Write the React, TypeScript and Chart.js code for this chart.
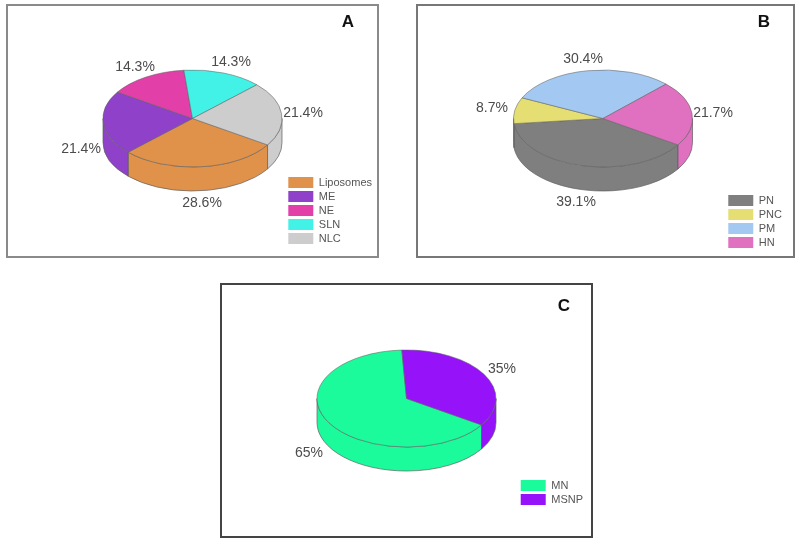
import React, { useEffect, useRef } from "react";
import { Chart, registerables } from "chart.js";

Chart.register(...registerables);

const labelsA = ["Liposomes", "ME", "NE", "SLN", "NLC"];
const valuesA = [28.6, 21.4, 14.3, 14.3, 21.4];
const coloursA = ["#E0924B", "#8F41C9", "#E23FA9", "#43F2E6", "#CDCDCD"];
const textA = ["28.6%", "21.4%", "14.3%", "14.3%", "21.4%"];
const labelOffsetsA = [[9.5, 84.5], [-111.5, 30.5], [-57.5, -51.5], [38.5, -56.5], [110.5, -5.5]];

const labelsB = ["PN", "PNC", "PM", "HN"];
const valuesB = [39.1, 8.7, 30.4, 21.7];
const coloursB = ["#7F7F7F", "#E5DF73", "#A3C9F2", "#E071C1"];
const textB = ["39.1%", "8.7%", "30.4%", "21.7%"];
const labelOffsetsB = [[-27, 83.5], [-111, -10.5], [-20, -59.5], [110, -5.5]];

const labelsC = ["MN", "MSNP"];
const valuesC = [65, 35];
const coloursC = ["#1CFB9B", "#9512F9"];
const textC = ["65%", "35%"];
const labelOffsetsC = [[-97.5, 54.5], [95.5, -29.5]];

const RX = 89.5;
const RY = 48.5;
const DEPTH = 24;
const BW = 2;
const EDGE = "#5f5f5f";

type Panel = {
  letter: string; labels: string[]; values: number[]; colours: string[]; text: string[];
  offsets: number[][]; left: number; top: number; w: number; h: number;
  cx: number; cy: number; letterX: number; letterY: number; padR: number; padB: number; border: string;
};

const panels: Panel[] = [
  { letter: "A", labels: labelsA, values: valuesA, colours: coloursA, text: textA, offsets: labelOffsetsA,
    left: 6, top: 4, w: 373, h: 254, cx: 192.5, cy: 118.5, letterX: 348, letterY: 22, padR: -5, padB: 9, border: "#8a8a8a" },
  { letter: "B", labels: labelsB, values: valuesB, colours: coloursB, text: textB, offsets: labelOffsetsB,
    left: 416, top: 4, w: 379, h: 254, cx: 603, cy: 118.5, letterX: 764, letterY: 22, padR: 1, padB: 5, border: "#777777" },
  { letter: "C", labels: labelsC, values: valuesC, colours: coloursC, text: textC, offsets: labelOffsetsC,
    left: 220, top: 283, w: 373, h: 255, cx: 406.5, cy: 398.5, letterX: 564, letterY: 306, padR: -2, padB: 28, border: "#444444" },
];

function PieCard({ p }: { p: Panel }) {
  const ref = useRef<HTMLCanvasElement>(null);
  useEffect(() => {
    const canvas = ref.current!;
    const ox = p.left + BW;
    const oy = p.top + BW;
    const tx = p.cx - ox;
    const ty = p.cy - oy;
    const pie3d = {
      id: "pie3d",
      beforeDatasetsDraw(chart: any) {
        const ctx = chart.ctx;
        const arcs = chart.getDatasetMeta(0).data;
        ctx.save();
        arcs.forEach((arc: any, i: number) => {
          const s = arc.startAngle, e = arc.endAngle;
          for (let k = -1; k <= 1; k++) {
            const a0 = Math.max(s + k * 2 * Math.PI, 0);
            const a1 = Math.min(e + k * 2 * Math.PI, Math.PI);
            if (a1 <= a0) continue;
            ctx.beginPath();
            ctx.ellipse(tx, ty, RX, RY, 0, a0, a1);
            ctx.ellipse(tx, ty + DEPTH, RX, RY, 0, a1, a0, true);
            ctx.closePath();
            ctx.fillStyle = p.colours[i];
            ctx.fill();
            ctx.lineWidth = 0.7;
            ctx.strokeStyle = EDGE;
            ctx.stroke();
          }
        });
        ctx.restore();
        const el = arcs[0];
        ctx.save();
        ctx.translate(tx, ty);
        ctx.scale(1, RY / RX);
        ctx.translate(-el.x, -el.y);
      },
      afterDatasetsDraw(chart: any) {
        const ctx = chart.ctx;
        ctx.restore();
        ctx.save();
        ctx.font = "14px 'Liberation Sans'";
        ctx.fillStyle = "#4c4c4c";
        ctx.textAlign = "center";
        ctx.textBaseline = "middle";
        p.text.forEach((t, i) => {
          ctx.fillText(t, tx + p.offsets[i][0], ty + p.offsets[i][1]);
        });
        ctx.font = "bold 17px 'Liberation Sans'";
        ctx.fillStyle = "#111111";
        ctx.fillText(p.letter, p.letterX - ox, p.letterY - oy);
        ctx.restore();
      },
    };
    const chart = new Chart(canvas, {
      type: "pie",
      data: {
        labels: p.labels,
        datasets: [{
          data: p.values,
          backgroundColor: p.colours,
          borderColor: EDGE,
          borderWidth: 0.7,
          clip: false,
        } as any],
      },
      options: {
        responsive: false,
        animation: false,
        rotation: 123,
        radius: RX,
        layout: { padding: { right: p.padR, bottom: p.padB } },
        plugins: {
          tooltip: { enabled: false },
          legend: {
            position: "right",
            align: "end",
            labels: {
              boxWidth: 25,
              boxHeight: 11,
              padding: 3,
              color: "#555555",
              font: { family: "'Liberation Sans'", size: 11 },
              generateLabels: (c: any) =>
                (Chart as any).overrides.pie.plugins.legend.labels.generateLabels(c).map((it: any) => ({ ...it, lineWidth: 0 })),
            },
          },
        },
      } as any,
      plugins: [pie3d],
    });
    return () => chart.destroy();
  }, [p]);
  return (
    <div style={{ position: "absolute", left: p.left, top: p.top, width: p.w, height: p.h, boxSizing: "border-box", border: `${BW}px solid ${p.border}`, background: "#fff", filter: "blur(0.4px)" }}>
      <canvas ref={ref} width={p.w - 2 * BW} height={p.h - 2 * BW} style={{ display: "block" }} />
    </div>
  );
}

export default function App() {
  return (
    <div style={{ position: "absolute", left: 0, top: 0, width: 797, height: 547, background: "#fff" }}>
      {panels.map((p) => <PieCard key={p.letter} p={p} />)}
    </div>
  );
}
